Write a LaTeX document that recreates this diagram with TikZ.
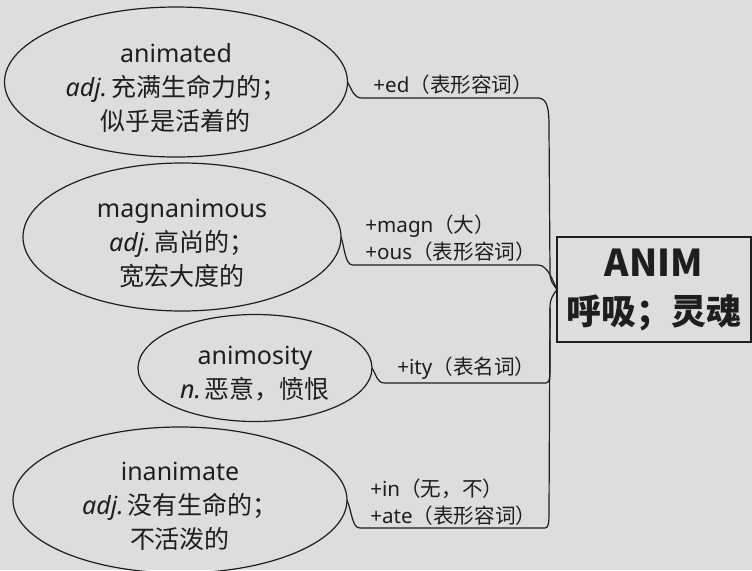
\documentclass[tikz,border=0pt]{standalone}
\usepackage{fontspec}
\setmainfont{Noto Sans}
\newfontfamily\cjk{Noto Sans CJK SC}
\usetikzlibrary{shapes.geometric,positioning}
\definecolor{PaperGray}{RGB}{221,221,221}
\definecolor{InkGray}{RGB}{30,30,30}

\tikzset{
  word/.style={ellipse, draw=InkGray, line width=0.6pt, inner sep=0pt, outer sep=0pt},
  wordtext/.style={inner sep=0pt, align=center, text=InkGray,
    font=\fontsize{12.5}{17}\selectfont},
  affix/.style={anchor=west, inner sep=0pt, align=left, text=InkGray,
    font=\fontsize{10.3}{13.5}\selectfont},
  branch/.style={draw=InkGray, line width=0.6pt},
}
\newcommand{\pos}[1]{{\itshape #1}\hspace{2pt}}

\begin{document}
\begin{tikzpicture}[x=0.5pt, y=-0.5pt]
  % Background
  \fill[PaperGray] (0,0) rectangle (752,570);
  \useasboundingbox (0,0) rectangle (752,570);

  % Root
  \node[draw=InkGray, line width=1pt, minimum width=97pt, minimum height=52.5pt,
    inner sep=0pt, outer sep=0pt, align=center, text=InkGray,
    font=\fontsize{17.5}{24}\selectfont\cjk\bfseries] (root) at (654,289.5)
    {{\fontsize{18.5}{24}\selectfont ANIM}\\呼吸；灵魂};

  % Words
  \node[word, minimum width=171.5pt, minimum height=75pt] (animated) at (176,82) {};
  \node[wordtext] (animated-t) at ([yshift=-3pt]animated.center)
    {animated\\\pos{adj.}{\cjk 充满生命力的；}\\{\cjk 似乎是活着的}};
  \node[word, minimum width=159pt, minimum height=74pt] (magnan) at (182,237) {};
  \node[wordtext] (magnan-t) at ([yshift=-3pt]magnan.center)
    {magnanimous\\\pos{adj.}{\cjk 高尚的；}\\{\cjk 宽宏大度的}};
  \node[word, minimum width=117pt, minimum height=53.5pt] (animosity) at (255,368) {};
  \node[wordtext] (animosity-t) at ([yshift=-3pt]animosity.center)
    {animosity\\\pos{n.}{\cjk 恶意，愤恨}};
  \node[word, minimum width=167pt, minimum height=73pt] (inanimate) at (180,500) {};
  \node[wordtext] (inanimate-t) at ([yshift=-3pt]inanimate.center)
    {inanimate\\\pos{adj.}{\cjk 没有生命的；}\\{\cjk 不活泼的}};

  % Affix labels
  \node[affix] (ed) at (373,85) {+ed{\cjk（表形容词）}};
  \node[affix] (ous) at (365,238.5) {+magn{\cjk（大）}\\+ous{\cjk（表形容词）}};
  \node[affix] (ity) at (397,368) {+ity{\cjk（表名词）}};
  \node[affix] (ate) at (370,502.5) {+in{\cjk（无，不）}\\+ate{\cjk（表形容词）}};

  % Branch points
  \coordinate (ed-l) at (362,98);
  \coordinate (ed-r) at (538,98);
  \coordinate (ous-l) at (353,265);
  \coordinate (ous-r) at (538,265);
  \coordinate (ity-l) at (385,383);
  \coordinate (ity-r) at (546,383);
  \coordinate (ate-l) at (360,528);
  \coordinate (ate-r) at (545,528);
  \coordinate (trunk-n) at (550,272);
  \coordinate (trunk-s) at (550,308);

  % Branches
  \draw[branch] (animated.east) .. controls +(5,9) and +(-8,0) .. (ed-l) -- (ed-r)
    .. controls +(10,0) and +(0,-15) .. ++(11,28) -- (trunk-n)
    .. controls +(0,10) and +(-4,-6) .. (root.west);
  \draw[branch] (magnan.east) .. controls +(4,12) and +(-8,0) .. (ous-l) -- (ous-r)
    .. controls +(10,0) and +(-4,-8) .. (root.west);
  \draw[branch] (animosity.east) .. controls +(5,8) and +(-8,0) .. (ity-l) -- (ity-r)
    .. controls +(3,0) and +(0,10) .. ++(4,-14) -- (trunk-s)
    .. controls +(0,-10) and +(-4,6) .. (root.west);
  \draw[branch] (inanimate.east) .. controls +(5,12) and +(-8,0) .. (ate-l) -- (ate-r)
    .. controls +(3,0) and +(0,10) .. ++(4,-14) -- (trunk-s);
\end{tikzpicture}
\end{document}
